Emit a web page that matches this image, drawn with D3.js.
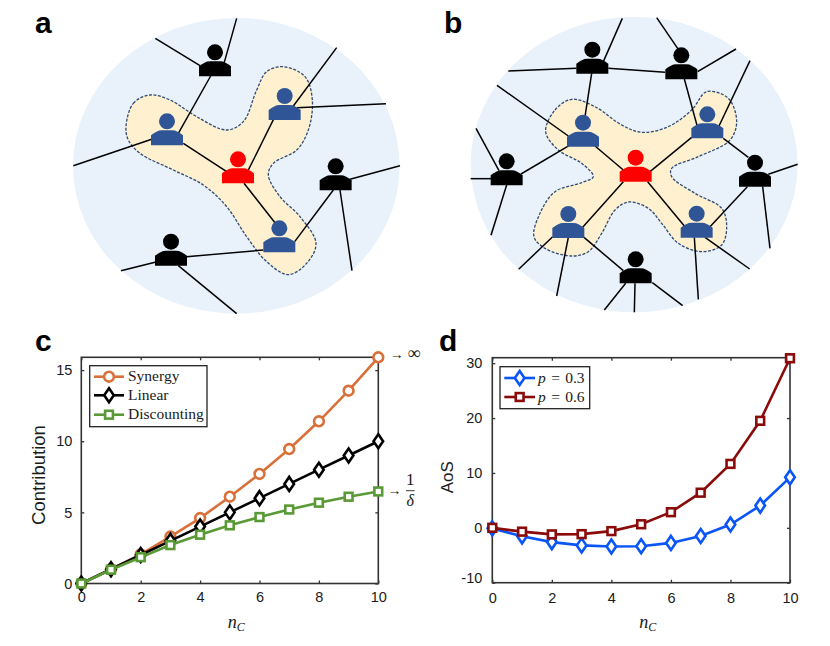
<!DOCTYPE html>
<html>
<head>
<meta charset="utf-8">
<script src="https://cdn.jsdelivr.net/npm/d3@7"></script>
<style>
  html, body { margin: 0; padding: 0; background: #fff; }
  svg { display: block; }
  text { font-family: "Liberation Sans", Arial, sans-serif; fill: #1a1a1a; }
  .tick text { font-size: 14.5px; }
  .legend text, .math { font-family: "Liberation Serif", serif; }
</style>
</head>
<body>
<div id="chart"></div>
<script>
// values
const nC = [0, 1, 2, 3, 4, 5, 6, 7, 8, 9, 10];
const synergy = [0, 1, 2.05, 3.3, 4.6, 6.1, 7.7, 9.45, 11.4, 13.55, 15.9];
const linear = [0, 1, 2, 3, 4, 5, 6, 7, 8, 9, 10];
const discounting = [0, 0.97, 1.85, 2.7, 3.43, 4.09, 4.67, 5.2, 5.68, 6.1, 6.47];
const aosLow = [-0.1, -1.55, -2.6, -3.2, -3.4, -3.35, -2.75, -1.5, 0.6, 4.05, 9.2];
const aosHigh = [0, -0.7, -1.2, -1.15, -0.6, 0.65, 2.85, 6.4, 11.65, 19.5, 30.9];
const xTicks = [0, 2, 4, 6, 8, 10];
const yTicksC = [0, 5, 10, 15];
const yTicksD = [-10, 0, 10, 20, 30];

// network sketches, in units of 1/3 px
const blackA = [[645, 157], [1007, 499], [513, 725]];
const blueA = [[501, 364], [854, 288], [838, 685]];
const redA = [[714, 478]];
const edgesA = [
  [466, 115, 600, 197], [710, 55, 672, 190], [632, 228, 535, 400], [220, 497, 455, 418],
  [550, 430, 680, 515], [745, 510, 822, 355], [880, 318, 1010, 143], [890, 323, 1158, 311],
  [732, 550, 825, 668], [884, 725, 1000, 570], [1050, 538, 1200, 497], [1020, 570, 1056, 812],
  [560, 770, 790, 750], [363, 812, 465, 787], [535, 797, 710, 941]
];
const blobA = [
  [378, 380], [400, 310], [450, 285], [510, 300], [590, 350], [680, 390], [730, 365], [770, 270],
  [800, 215], [850, 200], [915, 230], [937, 300], [925, 390], [890, 450], [820, 490], [805, 525],
  [840, 590], [900, 650], [948, 730], [920, 790], [865, 824], [800, 785], [740, 710], [680, 620],
  [610, 555], [520, 510], [420, 460], [385, 420]
];
const blackB = [[532, 149], [799, 166], [275, 484], [1020, 488], [662, 778]];
const blueB = [[504, 368], [877, 343], [460, 642], [845, 641]];
const redB = [[662, 473]];
const edgesB = [
  [280, 213, 485, 205], [622, 55, 565, 185], [580, 205, 750, 217], [725, 53, 790, 148],
  [848, 215, 963, 147], [1005, 182, 912, 378], [530, 220, 510, 350], [808, 237, 847, 380],
  [246, 256, 460, 408], [183, 385, 252, 512], [167, 536, 228, 536], [275, 555, 228, 706],
  [318, 522, 462, 437], [540, 438, 625, 510], [830, 412, 705, 515], [925, 415, 1000, 472],
  [1060, 523, 1148, 493], [1043, 560, 1065, 745], [625, 545, 503, 682], [698, 545, 810, 680],
  [885, 680, 997, 560], [413, 710, 311, 808], [460, 712, 425, 888], [507, 712, 625, 812],
  [838, 712, 850, 898], [870, 712, 1004, 807], [632, 850, 568, 930], [660, 850, 658, 937],
  [712, 848, 803, 917]
];
const blobB = [
  [392, 395], [420, 330], [470, 298], [540, 320], [620, 375], [680, 397], [760, 380], [830, 330],
  [875, 275], [940, 295], [965, 365], [945, 420], [850, 470], [770, 505], [770, 530], [840, 580],
  [920, 625], [935, 680], [920, 735], [860, 755], [790, 730], [740, 670], [700, 625], [640, 606],
  [600, 630], [560, 700], [520, 755], [470, 768], [390, 745], [357, 710], [375, 640], [420, 575],
  [500, 548], [535, 530], [500, 490], [430, 450]
];

const svg = d3.select("#chart")
  .append("svg")
  .attr("width", 830)
  .attr("height", 646);

const sketchScale = d3.scaleLinear().domain([0, 1245]).range([0, 415]);
const s = sketchScale;

function personBody() {
  return "M-16,24V14C-12,11 -9,9 -5,9H5C9,9 12,11 16,14V24Z";
}

function drawPeople(g, people, color) {
  const p = g.selectAll(null)
    .data(people)
    .join("g")
    .attr("transform", d => `translate(${s(d[0])},${s(d[1])})`);
  p.append("circle").attr("r", 8).attr("fill", color);
  p.append("path").attr("d", personBody()).attr("fill", color);
}

function drawSketch(offset, disc, blob, edges, black, blue, red) {
  const g = svg.append("g").attr("transform", `translate(${offset},0)`);

  g.append("ellipse")
    .attr("cx", s((disc[0] + disc[1]) / 2))
    .attr("cy", s((disc[2] + disc[3]) / 2))
    .attr("rx", s((disc[1] - disc[0]) / 2))
    .attr("ry", s((disc[3] - disc[2]) / 2))
    .attr("fill", "#e9f2fb");

  const blobLine = d3.line()
    .x(d => s(d[0]))
    .y(d => s(d[1]))
    .curve(d3.curveCatmullRomClosed.alpha(0.5));

  g.append("path")
    .attr("d", blobLine(blob))
    .attr("fill", "#fff1d0")
    .attr("stroke", "#2f4a75")
    .attr("stroke-width", 1.3)
    .attr("stroke-dasharray", "3,1.5");

  g.selectAll(null)
    .data(edges)
    .join("line")
    .attr("x1", d => s(d[0]))
    .attr("y1", d => s(d[1]))
    .attr("x2", d => s(d[2]))
    .attr("y2", d => s(d[3]))
    .attr("stroke", "#000")
    .attr("stroke-width", 1.5);

  drawPeople(g, black, "#000");
  drawPeople(g, blue, "#2f5597");
  drawPeople(g, red, "#ff0000");
}

drawSketch(0, [219, 1199, 54, 941], blobA, edgesA, blackA, blueA, redA);
drawSketch(415, [167, 1148, 50, 937], blobB, edgesB, blackB, blueB, redB);

// panel letters
[["a", 35, 33], ["b", 444, 33], ["c", 35, 351], ["d", 439, 351]].forEach(function (l) {
  svg.append("text")
    .text(l[0])
    .attr("x", l[1])
    .attr("y", l[2])
    .style("font-size", "30px")
    .style("font-weight", "bold")
    .style("fill", "#000");
});

function drawMarker(sel, type, color) {
  if (type == "circle") {
    sel.append("circle").attr("r", 4.9);
  } else if (type == "square") {
    sel.append("rect").attr("x", -3.9).attr("y", -3.9).attr("width", 7.8).attr("height", 7.8);
  } else {
    sel.append("path").attr("d", "M0,-7L4.8,0L0,7L-4.8,0Z");
  }
  sel.selectAll("circle,rect,path")
    .attr("fill", "#fff")
    .attr("stroke", color)
    .attr("stroke-width", 2.6);
}

function drawPanel(box, yDomain, yTicks, series, yName, yNameX) {
  const g = svg.append("g");
  const x = d3.scaleLinear().domain([0, 10]).range([box.left, box.right]);
  const y = d3.scaleLinear().domain(yDomain).range([box.bottom, box.top]);

  const addAxis = function (axis, dx, dy) {
    const a = g.append("g")
      .attr("transform", `translate(${dx},${dy})`)
      .call(axis);
    a.select(".domain").remove();
    a.selectAll(".tick line").attr("stroke", "#333").attr("stroke-width", 1.3);
    a.selectAll(".tick text").style("fill", "#1a1a1a");
    return a;
  };

  addAxis(d3.axisBottom(x).tickValues(xTicks).tickSize(-3).tickPadding(box.xPad).tickFormat(d => String(d)), 0, box.bottom);
  addAxis(d3.axisTop(x).tickValues(xTicks).tickSize(-3).tickFormat(""), 0, box.top);
  const yAxis = addAxis(d3.axisLeft(y).tickValues(yTicks).tickSize(-3).tickPadding(box.yPad).tickFormat(d => String(d)), box.left, 0);
  addAxis(d3.axisRight(y).tickValues(yTicks).tickSize(-3).tickFormat(""), box.right, 0);

  // the lowest label of panel d sits a little above its tick
  yAxis.selectAll(".tick text").filter(d => d == -10).attr("dy", "-0.02em");

  g.append("rect")
    .attr("x", box.left)
    .attr("y", box.top)
    .attr("width", box.right - box.left)
    .attr("height", box.bottom - box.top)
    .attr("fill", "none")
    .attr("stroke", "#333")
    .attr("stroke-width", 1.6);

  const line = d3.line().x((d, i) => x(nC[i])).y(d => y(d));

  series.forEach(function (ser) {
    g.append("path")
      .datum(ser.values)
      .attr("d", line)
      .attr("fill", "none")
      .attr("stroke", ser.color)
      .attr("stroke-width", 2.6);

    const m = g.selectAll(null)
      .data(ser.values)
      .join("g")
      .attr("transform", (d, i) => `translate(${x(nC[i])},${y(d)})`);
    m.each(function () { drawMarker(d3.select(this), ser.marker, ser.color); });
  });

  g.append("text")
    .text(yName)
    .attr("transform", `translate(${yNameX},${(box.top + box.bottom) / 2 + box.yNameShift}) rotate(-90)`)
    .attr("text-anchor", "middle")
    .style("font-size", box.yNameSize);

  const nLabel = g.append("text")
    .attr("class", "math")
    .attr("x", (box.left + box.right) / 2 + 6.5)
    .attr("y", 628)
    .attr("text-anchor", "middle")
    .style("font-size", "18px")
    .style("font-style", "italic");
  nLabel.append("tspan").text("n");
  nLabel.append("tspan").text("C").attr("dy", 3).style("font-size", "12px");

  return { x: x, y: y };
}

function drawLegend(lg, series) {
  const g = svg.append("g").attr("class", "legend");
  g.append("rect")
    .attr("x", lg.x)
    .attr("y", lg.y)
    .attr("width", lg.w)
    .attr("height", lg.h)
    .attr("fill", "#fff")
    .attr("stroke", "#222")
    .attr("stroke-width", 1.3);

  series.forEach(function (ser, i) {
    const rowY = lg.rows[i];
    g.append("line")
      .attr("x1", lg.lineX[0])
      .attr("x2", lg.lineX[1])
      .attr("y1", rowY)
      .attr("y2", rowY)
      .attr("stroke", ser.color)
      .attr("stroke-width", 2.6);
    const m = g.append("g")
      .attr("transform", `translate(${(lg.lineX[0] + lg.lineX[1]) / 2},${rowY})`);
    drawMarker(m, ser.marker, ser.color);
    const t = g.append("text")
      .attr("x", lg.textX)
      .attr("y", rowY + 4.5)
      .style("font-size", "15.5px");
    if (ser.p) {
      t.style("word-spacing", "1.5px");
      t.append("tspan").text("p").style("font-style", "italic");
      t.append("tspan").text(" = " + ser.p);
    } else {
      t.text(ser.name);
    }
  });
}

const seriesC = [
  { name: "Synergy", values: synergy, color: "#d9703a", marker: "circle" },
  { name: "Linear", values: linear, color: "#000", marker: "diamond" },
  { name: "Discounting", values: discounting, color: "#5a9a36", marker: "square" }
];
const seriesD = [
  { p: "0.3", values: aosLow, color: "#0a55f5", marker: "diamond" },
  { p: "0.6", values: aosHigh, color: "#8b0a0a", marker: "square" }
];

drawPanel({ left: 81.3, right: 378.3, top: 357.3, bottom: 583.5, xPad: 8, yPad: 9, yNameShift: 4.6, yNameSize: "18.5px" },
  [0, 15.9], yTicksC, seriesC, "Contribution", 45);
drawPanel({ left: 492.3, right: 790, top: 357.7, bottom: 582.7, xPad: 10, yPad: 10, yNameShift: 7, yNameSize: "17px" },
  [-10, 31], yTicksD, seriesD, "AoS", 453);

drawLegend({ x: 89.7, y: 365.7, w: 117.3, h: 61, rows: [376.7, 395.3, 414.7], lineX: [94, 124], textX: 128 },
  seriesC);
drawLegend({ x: 500, y: 366.7, w: 89.7, h: 42, rows: [378, 397], lineX: [504.3, 535], textX: 538 },
  seriesD);

// limits next to the curves
function limitText(label, x, y, size, italic) {
  svg.append("text")
    .attr("class", "math")
    .text(label)
    .attr("x", x)
    .attr("y", y)
    .attr("text-anchor", "middle")
    .style("font-size", size)
    .style("font-style", italic ? "italic" : "normal");
}
limitText("\u2192", 396.7, 359, "14px");
limitText("\u221e", 414, 359, "18px");
limitText("\u2192", 394.5, 494.5, "14px");
limitText("1", 410.3, 485, "17px");
limitText("\u03b4", 410.3, 505.7, "16px", true);
svg.append("line")
  .attr("x1", 406)
  .attr("x2", 414.7)
  .attr("y1", 490.7)
  .attr("y2", 490.7)
  .attr("stroke", "#222")
  .attr("stroke-width", 0.9);
</script>
</body>
</html>
